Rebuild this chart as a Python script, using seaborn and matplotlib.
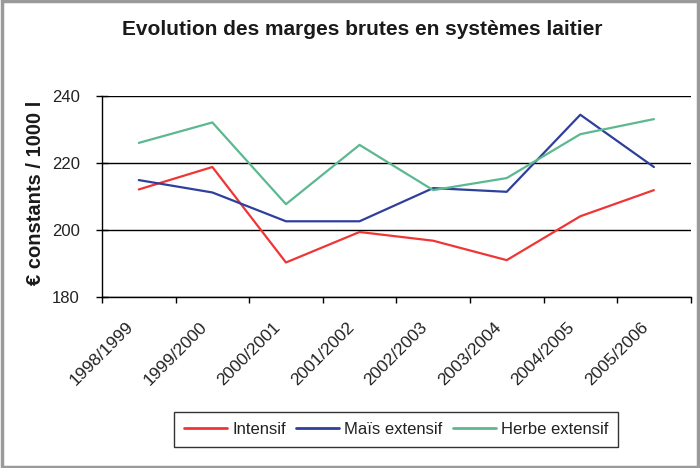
import pandas as pd
import matplotlib.pyplot as plt
import matplotlib.transforms as mtransforms
import seaborn as sns
from matplotlib.patches import Rectangle

# Data
campagnes = ['1998/1999', '1999/2000', '2000/2001', '2001/2002',
             '2002/2003', '2003/2004', '2004/2005', '2005/2006']
intensif = [212.1, 218.8, 190.3, 199.4, 196.8, 191.0, 204.1, 211.9]
mais_extensif = [214.9, 211.2, 202.6, 202.6, 212.5, 211.4, 234.4, 218.8]
herbe_extensif = [226.0, 232.1, 207.7, 225.4, 211.9, 215.5, 228.6, 233.1]
series = ['Intensif', 'Maïs extensif', 'Herbe extensif']
couleurs = ['#f03535', '#2f3f9c', '#5cb890']

df = pd.DataFrame({
    'campagne': campagnes * 3,
    'idx': list(range(len(campagnes))) * 3,
    'marge': intensif + mais_extensif + herbe_extensif,
    'systeme': [s for s in series for _ in campagnes],
})

sns.set_style('white')
plt.rcParams['font.family'] = ['Liberation Sans', 'DejaVu Sans']

fig = plt.figure(figsize=(7, 4.68), dpi=100)
ax = fig.add_axes([0.1457, 0.3654, 0.841, 0.4295])

sns.lineplot(data=df, x='idx', y='marge', hue='systeme', hue_order=series,
             palette=couleurs, linewidth=1.6, ax=ax, legend=True)

ax.set_xlim(-0.5, len(campagnes) - 0.5)
ax.set_ylim(180, 240)
ax.set_yticks([180, 200, 220, 240])
ax.set_yticklabels(['180', '200', '220', '240'], fontsize=12, color='#222222')
ax.yaxis.grid(True, color='black', linewidth=1.0)
ax.set_axisbelow(True)

# category ticks between categories, labels at centres
ax.set_xticks([i - 0.5 for i in range(len(campagnes) + 1)])
ax.set_xticklabels([])
ax.set_xticks(range(len(campagnes)), minor=True)
ax.set_xticklabels(campagnes, minor=True, rotation=45, ha='right', va='center',
                   rotation_mode='anchor', fontsize=12.5, color='#222222')
ax.tick_params(axis='x', which='major', direction='out', length=4, width=1, color='black', bottom=True)
ax.tick_params(axis='x', which='minor', length=0, pad=20)
ax.tick_params(axis='y', direction='inout', length=8, width=1, color='black', left=True, pad=12)
shift = mtransforms.ScaledTranslation(-0.08, 0, fig.dpi_scale_trans)
for lab in ax.get_xticklabels(minor=True):
    lab.set_transform(lab.get_transform() + shift)

for side in ['top', 'right']:
    ax.spines[side].set_visible(False)
for side in ['left', 'bottom']:
    ax.spines[side].set_color('black')
    ax.spines[side].set_linewidth(1.0)

ax.set_xlabel('')
ax.set_ylabel('€ constants / 1000 l', fontsize=14.5, fontweight='bold', color='#1a1a1a')
ax.yaxis.set_label_coords(-0.096, 0.52)

leg = ax.legend(loc='center', ncol=3, frameon=True, fancybox=False, fontsize=12,
                handlelength=2.6, columnspacing=0.6, handletextpad=0.3, borderpad=0.6)
leg.set_bbox_to_anchor((0.566, 0.083), transform=fig.transFigure)
leg.get_frame().set_edgecolor('black')
leg.get_frame().set_linewidth(1.0)
for line in leg.get_lines():
    line.set_linewidth(2.0)
for t in leg.get_texts():
    t.set_color('#222222')

fig.text(0.517, 0.925, 'Evolution des marges brutes en systèmes laitier',
         ha='center', va='baseline', fontsize=15, fontweight='bold',
         color='#1a1a1a')

fig.patches.append(Rectangle((0.003, 0.003), 0.994, 0.994, transform=fig.transFigure,
                             fill=False, edgecolor='#9a9a9a', linewidth=2.5))

fig.savefig('out.png', dpi=100)
